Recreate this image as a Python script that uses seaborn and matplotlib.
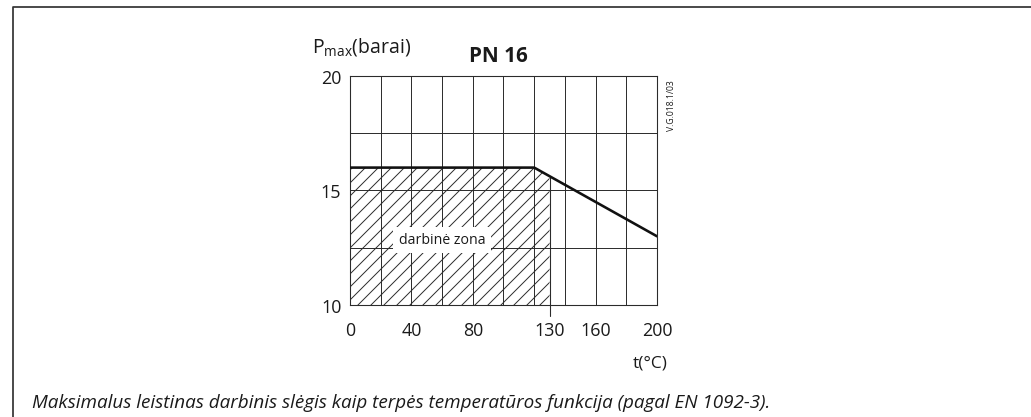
import numpy as np
import seaborn as sns
import matplotlib.pyplot as plt
from matplotlib.lines import Line2D

# PN 16: max slegis pagal temperatura
temp_c = [0, 120, 200]
p_max = [16, 16, 13]
zone_limit = 130      # darbines zonos riba, C
p_floor = 10
x_labels = [0, 40, 80, 130, 160, 200]
y_labels = [10, 15, 20]

sns.set_theme(style='white')
plt.rcParams['font.family'] = ['Open Sans', 'DejaVu Sans']
plt.rcParams['mathtext.default'] = 'regular'
plt.rcParams['hatch.linewidth'] = 0.9

ink = '#2b2b2b'
dpi = 78
fig = plt.figure(figsize=(1031 / dpi, 418 / dpi), dpi=dpi)
ax = fig.add_axes([350 / 1031, 112 / 418, 307 / 1031, 229 / 418])

# tinklelis
for gx in np.arange(0, 201, 20):
    ax.axvline(gx, color=ink, lw=0.9, zorder=0)
for gy in np.arange(10, 20.1, 2.5):
    ax.axhline(gy, color=ink, lw=0.9, zorder=0)

# darbine zona (uzbruksniuota)
zone_t = [t for t in temp_c if t < zone_limit] + [zone_limit]
zone_p = np.interp(zone_t, temp_c, p_max)
ax.fill_between(zone_t, p_floor, zone_p, facecolor='none', edgecolor=ink,
                hatch='//', linewidth=0, zorder=1)
ax.axvline(zone_limit, ymin=-0.048, ymax=(zone_p[-1] - p_floor) / 10,
           color=ink, lw=1.0, clip_on=False, zorder=2)

sns.lineplot(x=temp_c, y=p_max, color='#111111', lw=2.4, ax=ax, zorder=4)

ax.set_xlim(0, 200)
ax.set_ylim(10, 20)
ax.set_xticks(x_labels)
ax.set_yticks(y_labels)
ax.grid(False)
ax.tick_params(length=0, labelsize=16.5, colors='#1a1a1a')
ax.tick_params(axis='x', pad=15)
ax.tick_params(axis='y', pad=8)
for s in ax.spines.values():
    s.set_color(ink)
    s.set_linewidth(1.0)
ax.set_xlabel('')
ax.set_ylabel('')

ax.text(60, 12.85, 'darbinė zona', ha='center', va='center', fontsize=13,
        color='#1a1a1a', zorder=5,
        bbox=dict(facecolor='white', edgecolor='none', pad=5))

fig.text(312 / 1031, 1 - 47 / 418, r'P$_{max}$(barai)', fontsize=18,
         va='center', color='#1a1a1a')
fig.text(498 / 1031, 1 - 56 / 418, 'PN 16', fontsize=19, weight='bold',
         ha='center', va='center', color='#1a1a1a')
fig.text(672 / 1031, 1 - 106 / 418, 'V.G.018.1/03', fontsize=8, rotation=90,
         ha='center', va='center', color='#1a1a1a')
fig.text(650 / 1031, 1 - 364 / 418, 't(°C)', fontsize=16,
         ha='center', va='center', color='#1a1a1a')
fig.text(32 / 1031, 1 - 403 / 418,
         'Maksimalus leistinas darbinis slėgis kaip terpės temperatūros funkcija (pagal EN 1092-3).',
         fontsize=17.4, style='italic', va='center', color='#1a1a1a')

# remelis
x0, y1 = 13 / 1031, 1 - 8 / 418
fig.add_artist(Line2D([x0, x0, 1], [0, y1, y1], transform=fig.transFigure,
                      color='#333333', lw=1.6))

fig.savefig('out.png', dpi=dpi, facecolor='white')
